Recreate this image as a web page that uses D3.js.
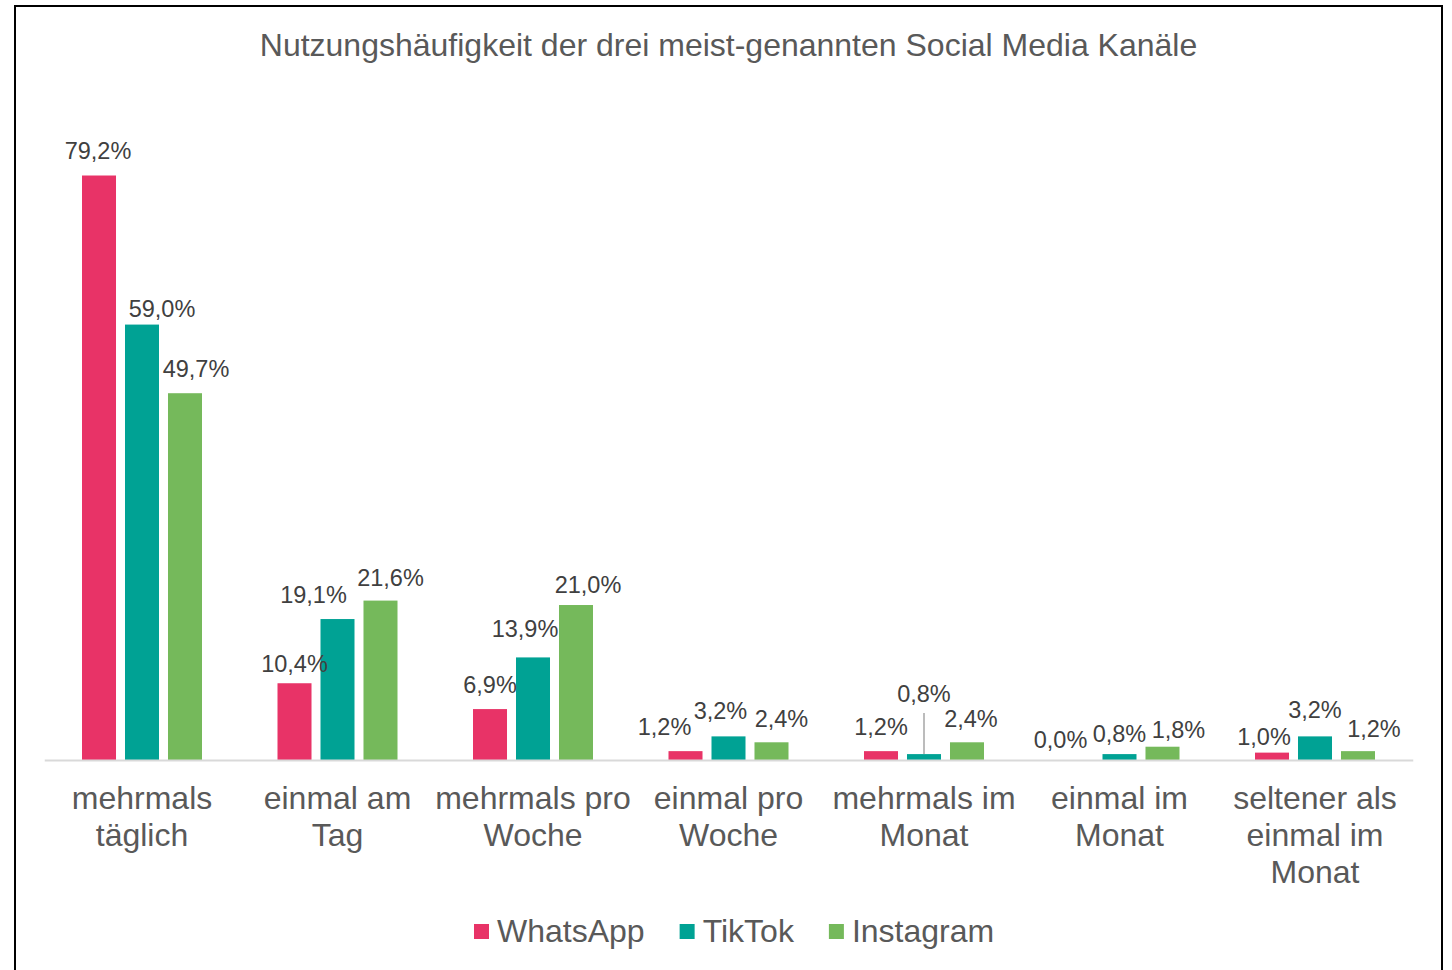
<!DOCTYPE html>
<html>
<head>
<meta charset="utf-8">
<script src="https://cdn.jsdelivr.net/npm/d3@7"></script>
<style>
  body { margin: 0; background: #fff; }
  svg { display: block; font-family: "Liberation Sans", Arial, sans-serif; }
</style>
</head>
<body>
<svg id="chart" width="1452" height="970"></svg>
<script>
const title = 'Nutzungshäufigkeit der drei meist-genannten Social Media Kanäle';

const categories = [
  'mehrmals|täglich',
  'einmal am|Tag',
  'mehrmals pro|Woche',
  'einmal pro|Woche',
  'mehrmals im|Monat',
  'einmal im|Monat',
  'seltener als|einmal im|Monat'
];

const seriesNames = ['WhatsApp', 'TikTok', 'Instagram'];
const seriesColors = ['#e83367', '#00a294', '#75b95b'];

const whatsapp = [79.2, 10.4, 6.9, 1.2, 1.2, 0.0, 1.0];
const tiktok = [59.0, 19.1, 13.9, 3.2, 0.8, 0.8, 3.2];
const instagram = [49.7, 21.6, 21.0, 2.4, 2.4, 1.8, 1.2];

// label nudges [dx, dy] per series and category (the labels were moved by hand in the original)
const labelNudge = [
  [[-1, -7], [0, -1], [0, -6], [-21, -6], [0, -6], [-16, -2], [-8, 2]],
  [[20, 2], [-24, -6], [-8, -10], [-8, -7], [0, -42], [0, -2], [0, -8]],
  [[11, -6], [10, -5], [12, -2], [10, -5], [4, -5], [16, 1], [16, -4]]
];

const values = [whatsapp, tiktok, instagram];
const data = categories.map((c, i) => ({
  cat: c,
  vals: seriesNames.map((s, j) => ({ series: s, j: j, i: i, v: values[j][i] }))
}));

const svg = d3.select('#chart');

// frame
svg.append('rect')
  .attr('x', 15).attr('y', 6)
  .attr('width', 1427).attr('height', 980)
  .attr('fill', 'none')
  .attr('stroke', '#000')
  .attr('stroke-width', 2);

svg.append('text')
  .attr('x', 728.5).attr('y', 56)
  .attr('text-anchor', 'middle')
  .attr('fill', '#595959')
  .style('font-size', '32px')
  .text(title);

const x0 = d3.scaleBand()
  .domain(categories)
  .range([44.25, 1412.75]);

const x1 = d3.scaleBand()
  .domain(seriesNames)
  .range([0, 120])
  .paddingInner(0.209);

const groupOff = (x0.bandwidth() - 120) / 2;

const y = d3.scaleLinear()
  .domain([0, 80])
  .range([760, 169.6]);

const fmt = v => d3.format('.1f')(v).replace('.', ',') + '%';

const groups = svg.append('g')
  .selectAll('g')
  .data(data)
  .join('g')
  .attr('transform', d => `translate(${x0(d.cat) + groupOff},0)`);

groups.selectAll('rect')
  .data(d => d.vals)
  .join('rect')
  .attr('x', d => x1(d.series))
  .attr('y', d => y(d.v))
  .attr('width', x1.bandwidth())
  .attr('height', d => y(0) - y(d.v))
  .attr('fill', d => seriesColors[d.j]);

// leader line for the moved TikTok label (mehrmals im Monat)
groups.filter((d, i) => i === 4)
  .append('line')
  .attr('x1', x1('TikTok') + x1.bandwidth() / 2)
  .attr('x2', x1('TikTok') + x1.bandwidth() / 2)
  .attr('y1', y(0.8) - 42 + 1)
  .attr('y2', y(0.8))
  .attr('stroke', '#a6a6a6')
  .attr('stroke-width', 1.5);

groups.selectAll('text.value')
  .data(d => d.vals)
  .join('text')
  .attr('class', 'value')
  .attr('x', d => x1(d.series) + x1.bandwidth() / 2 + labelNudge[d.j][d.i][0])
  .attr('y', d => y(d.v) - 10 + labelNudge[d.j][d.i][1])
  .attr('text-anchor', 'middle')
  .attr('fill', '#404040')
  .style('font-size', '23.5px')
  .text(d => fmt(d.v));

// category axis
const xAxis = svg.append('g')
  .attr('transform', 'translate(0,760)')
  .call(d3.axisBottom(x0).tickSize(0).tickSizeOuter(0).tickPadding(0));

xAxis.select('.domain')
  .attr('stroke', '#d9d9d9')
  .attr('stroke-width', 2);

xAxis.selectAll('.tick text')
  .attr('fill', '#595959')
  .attr('dy', null)
  .attr('y', 0)
  .style('font-size', '32px')
  .style('font-family', '"Liberation Sans", Arial, sans-serif')
  .each(function(d) {
    const t = d3.select(this);
    t.text(null);
    d.split('|').forEach((line, k) => {
      t.append('tspan')
        .attr('x', 0)
        .attr('y', 49 + k * 37)
        .text(line);
    });
  });

// legend
const legend = svg.append('g');
let lx = 474;
seriesNames.forEach((s, j) => {
  legend.append('rect')
    .attr('x', lx).attr('y', 924)
    .attr('width', 15).attr('height', 15)
    .attr('fill', seriesColors[j]);
  const t = legend.append('text')
    .attr('x', lx + 23).attr('y', 942)
    .attr('fill', '#595959')
    .style('font-size', '32px')
    .text(s);
  lx += 23 + t.node().getComputedTextLength() + 35;
});
</script>
</body>
</html>
